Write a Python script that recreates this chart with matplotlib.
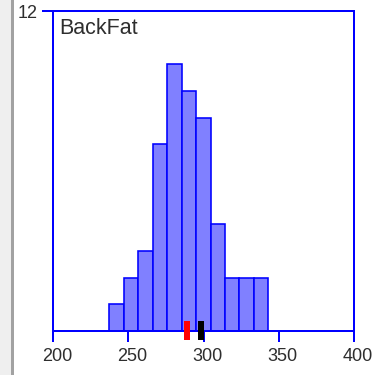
import matplotlib
matplotlib.use("Agg")
import matplotlib.pyplot as plt
import matplotlib.transforms as mtransforms
from matplotlib.patches import Rectangle

# Histogram of back fat measurements
bin_edges = [237.2, 246.8, 256.4, 266.1, 275.7, 285.3, 294.9, 304.6, 314.2, 323.8, 333.4, 343.1]
counts = [1, 2, 3, 7, 10, 9, 8, 4, 2, 2, 2]
x_ticks = [200, 250, 300, 350, 400]
x_tick_labels = ["200", "250", "300", "350", "400"]
y_max = 12
title = "BackFat"
# reference markers under the axis (red, black)
marker_values = [289.0, 298.0]
marker_colors = ["#ff0000", "#000000"]

W, H, DPI = 372, 375, 100
fig = plt.figure(figsize=(W / DPI, H / DPI), dpi=DPI)
fig.patch.set_facecolor("white")

def px(v):
    return v * 72.0 / DPI

# window edge on the left
fig.patches.append(Rectangle((0, 0), 11 / W, 1, transform=fig.transFigure,
                             facecolor="#efefef", edgecolor="none", zorder=0))
fig.patches.append(Rectangle((11 / W, 0), 3 / W, 1, transform=fig.transFigure,
                             facecolor="#a2a2a2", edgecolor="none", zorder=0))

left, right, top, bottom = 53.3, 354.0, 11.0, 331.0
ax = fig.add_axes([left / W, 1 - bottom / H, (right - left) / W, (bottom - top) / H])
ax.set_xlim(200, 400)
ax.set_ylim(0, y_max)

blue = "#0000ff"
widths = [b - a for a, b in zip(bin_edges[:-1], bin_edges[1:])]
ax.bar(bin_edges[:-1], counts, width=widths, align="edge",
       color="#8080ff", edgecolor=blue, linewidth=px(1.6), zorder=2)

for s in ax.spines.values():
    s.set_color(blue)
    s.set_linewidth(px(2))

ax.set_xticks(x_ticks)
ax.set_xticklabels(x_tick_labels)
ax.set_yticks([y_max])
ax.set_yticklabels([str(y_max)])
ax.tick_params(axis="both", direction="out", length=px(11), width=px(2),
               color=blue, labelcolor="#2e2e2e", labelsize=13,
               labelfontfamily="Liberation Sans")
ax.tick_params(axis="x", pad=px(6))
ax.tick_params(axis="y", pad=px(5))

shift = mtransforms.ScaledTranslation(4 / DPI, 0, fig.dpi_scale_trans)
for lab in ax.get_xticklabels():
    lab.set_transform(lab.get_transform() + shift)

# value markers straddling the axis line
unit = y_max / (bottom - top)
for v, c in zip(marker_values, marker_colors):
    ax.plot([v, v], [10 * unit, -9 * unit], color=c, linewidth=px(6),
            solid_capstyle="butt", clip_on=False, zorder=5)

fig.text(59 / W, 1 - 34 / H, title, fontsize=15.5, family="Liberation Sans",
         color="#2e2e2e", va="baseline", ha="left")

fig.savefig("out.png", dpi=DPI)
